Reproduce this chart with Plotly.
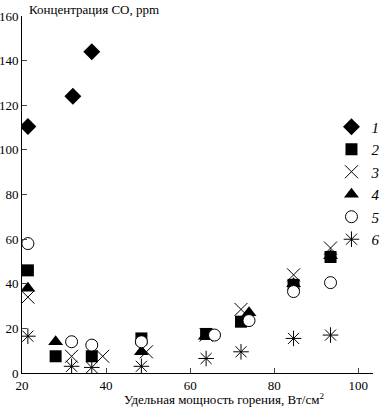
import plotly.graph_objects as go

# Series data (x = удельная мощность горения, y = концентрация CO)
x1 = [21.4, 32.1, 36.6]
y1 = [110.5, 124, 144]

x2 = [21.4, 28.0, 36.6, 48.4, 63.8, 72.1, 84.6, 93.4]
y2 = [46, 7.5, 7.5, 15.5, 17.5, 23, 39.5, 52]

x3 = [21.4, 31.8, 39.2, 49.6, 63.8, 72.1, 84.6, 93.4]
y3 = [34, 7.5, 7.5, 9.5, 17, 28.5, 44, 56]

x4 = [21.4, 28.0, 48.4, 63.6, 74.0, 84.6, 93.4]
y4 = [38, 14, 9.5, 16.5, 27, 40, 52.5]

x5 = [21.4, 31.8, 36.6, 48.4, 65.8, 74.0, 84.6, 93.4]
y5 = [58, 14, 12.5, 14, 17, 23.5, 36.5, 40.5]

x6 = [21.4, 31.8, 36.6, 48.4, 63.8, 72.1, 84.6, 93.4]
y6 = [16.5, 3, 2.5, 3, 6.5, 9.5, 15.5, 17]

names = ["1", "2", "3", "4", "5", "6"]
xtick_vals = [20, 40, 60, 80, 100]
ytick_vals = [0, 20, 40, 60, 80, 100, 120, 140, 160]

FONT = "Liberation Serif, Times New Roman, serif"
series = [
    (x1, y1, dict(symbol="diamond", size=13, color="black")),
    (x2, y2, dict(symbol="square", size=12, color="black")),
    (x3, y3, dict(symbol="x-thin-open", size=13, color="black", line=dict(width=1, color="black"))),
    (x4, y4, dict(symbol="triangle-up", size=13, color="black")),
    (x5, y5, dict(symbol="circle", size=12, color="white", line=dict(width=1, color="black"))),
    (x6, y6, dict(symbol="asterisk-open", size=13, color="black", line=dict(width=1, color="black"))),
]

fig = go.Figure()
for (xs, ys, mk), nm in zip(series, names):
    fig.add_trace(go.Scatter(x=xs, y=ys, mode="markers", name=nm, marker=mk))

fig.update_layout(
    width=381, height=413,
    margin=dict(l=22, r=8, t=16, b=40, autoexpand=False),
    paper_bgcolor="white", plot_bgcolor="white",
    font=dict(family=FONT, size=13, color="black"),
    showlegend=True,
    legend=dict(xref="container", yref="container", x=0.87, y=0.7325,
                xanchor="left", yanchor="top",
                font=dict(family=FONT, size=15, color="black", style="italic"),
                bgcolor="rgba(0,0,0,0)", itemwidth=30),
    xaxis=dict(range=[20, 103.5], tickvals=xtick_vals, ticks="inside", ticklen=5,
               showline=True, linecolor="black", linewidth=1, showgrid=False, zeroline=False,
               automargin=False,
               tickfont=dict(family=FONT, size=13, color="black")),
    yaxis=dict(range=[0, 160], tickvals=ytick_vals, ticks="inside", ticklen=5,
               showline=True, linecolor="black", linewidth=1, showgrid=False, zeroline=False,
               automargin=False, ticklabelstandoff=0,
               tickfont=dict(family=FONT, size=13, color="black")),
    annotations=[
        dict(text="Концентрация CO, ppm", xref="paper", yref="paper", x=0.014, y=1,
             xanchor="left", yanchor="bottom", showarrow=False, yshift=-3,
             font=dict(family=FONT, size=13, color="black")),
        dict(text="Удельная мощность горения, Вт/см<sup>2</sup>", xref="paper", yref="paper",
             x=0.575, y=0, xanchor="center", yanchor="top", showarrow=False, yshift=-16,
             font=dict(family=FONT, size=13, color="black")),
    ],
)

fig.write_html("out.html", config={"displayModeBar": False},
               post_script="document.body.style.margin='0px';")
